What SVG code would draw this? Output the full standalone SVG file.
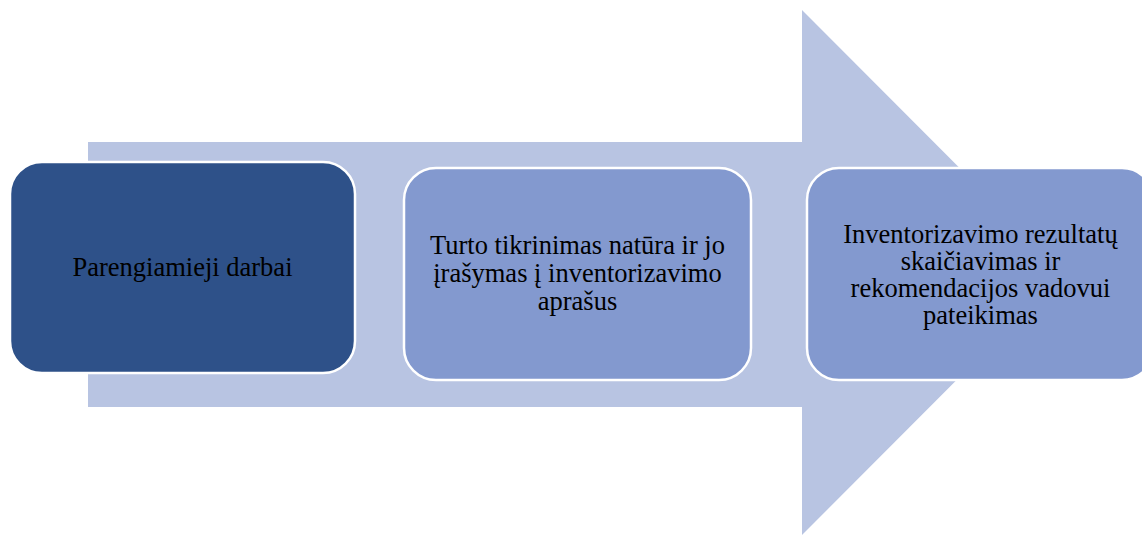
<svg xmlns="http://www.w3.org/2000/svg" width="1142" height="536" viewBox="0 0 1142 536">
<style>
.box{stroke:#FFFFFF;stroke-width:2.5}
.t{font-family:"Liberation Serif","Times New Roman",serif;font-size:26.5px;fill:#000000;text-anchor:middle}
</style>
<rect width="1142" height="536" fill="#FFFFFF"/>
<g id="arrow">
<polygon points="88,142 802,142 802,10 1064,272.5 802,535 802,407 88,407" fill="#B8C4E2"/>
</g>
<g id="node1">
<rect class="box" x="10" y="162" width="345" height="211" rx="32" fill="#2E5189"/>
<text class="t" x="182.5" y="276">Parengiamieji darbai</text>
</g>
<g id="node2">
<rect class="box" x="404" y="168" width="347" height="212" rx="32" fill="#8399CF"/>
<text class="t" x="577.5" y="254">Turto tikrinimas natūra ir jo</text>
<text class="t" x="577.5" y="282">įrašymas į inventorizavimo</text>
<text class="t" x="577.5" y="310">aprašus</text>
</g>
<g id="node3">
<rect class="box" x="807" y="168" width="347" height="212" rx="32" fill="#8399CF"/>
<text class="t" x="980.5" y="243">Inventorizavimo rezultatų</text>
<text class="t" x="980.5" y="270">skaičiavimas ir</text>
<text class="t" x="980.5" y="297">rekomendacijos vadovui</text>
<text class="t" x="980.5" y="324">pateikimas</text>
</g>
<g id="connectors"></g>
</svg>
